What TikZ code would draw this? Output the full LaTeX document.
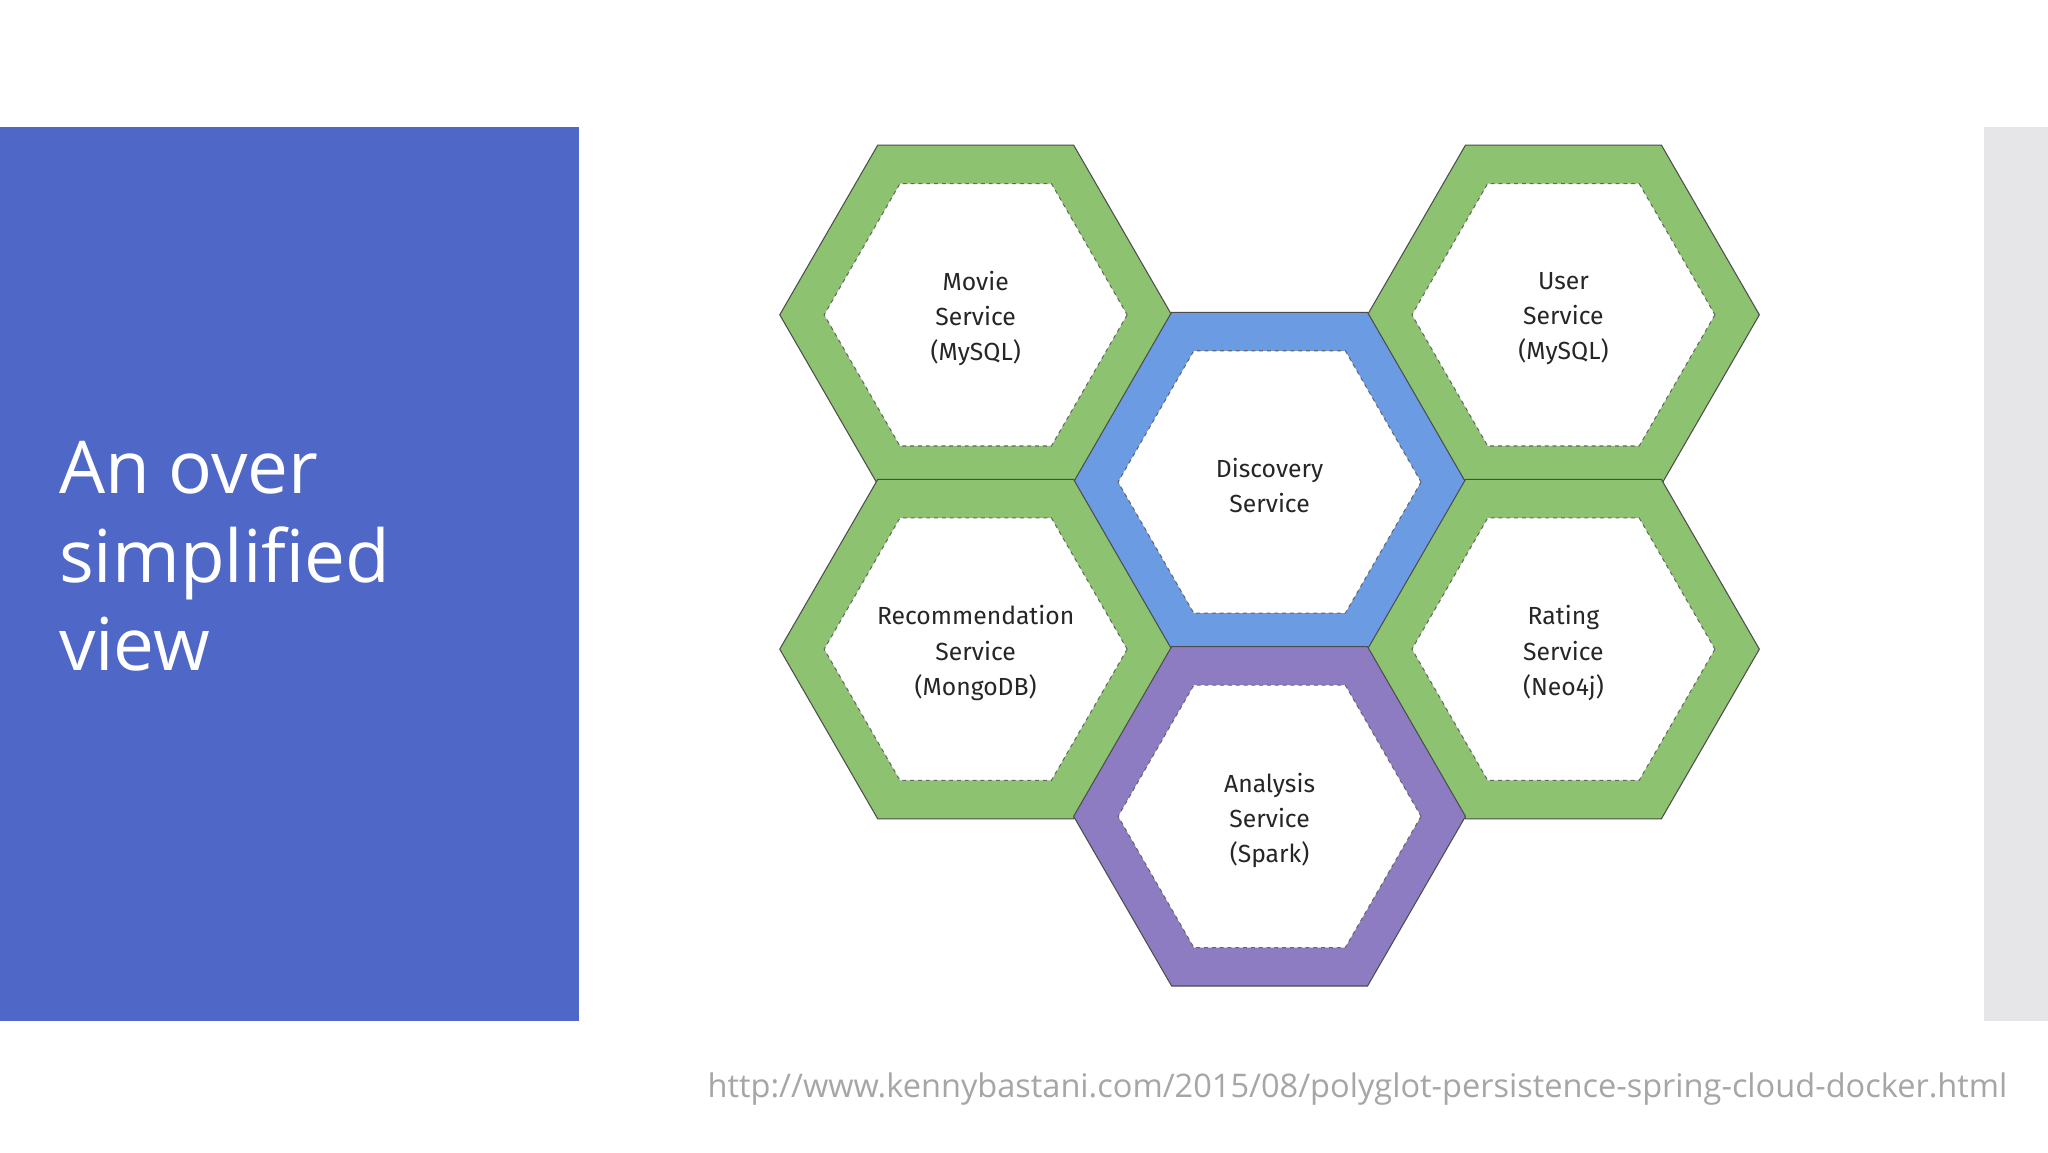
\documentclass[tikz,border=0pt]{standalone}
\usepackage{fontspec}
\setmainfont{Open Sans}
\newfontfamily\hexfont{Fira Sans}
\definecolor{slideblue}{HTML}{4F67C6}
\definecolor{sidegray}{HTML}{E6E6E8}
\definecolor{hgreen}{HTML}{8DC271}
\definecolor{hblue}{HTML}{6B9BE3}
\definecolor{hpurple}{HTML}{8E7CC3}
\definecolor{urlgray}{HTML}{A6A6A6}
\tikzset{
  hexlabel/.style={align=center,font=\hexfont\fontsize{19}{27}\selectfont,text=black!85},
}
\begin{document}
\begin{tikzpicture}[x=1bp,y=-1bp]
\useasboundingbox (0,0) rectangle (1568,882);
\fill[white] (0,0) rectangle (1568,882);
\fill[slideblue] (0,97) rectangle (443,782);
\fill[sidegray] (1519,97) rectangle (1568,782);
\node[anchor=north west,align=left,text=white,font=\fontsize{56}{68}\selectfont,inner sep=0pt] (title) at (45,338) {An over\\simplified\\view};
\node[text=urlgray,font=\fontsize{25}{30}\selectfont,anchor=east,inner sep=0pt] (url) at (1537,834) {http://www.kennybastani.com/2015/08/polyglot-persistence-spring-cloud-docker.html};
\foreach \n/\x/\y/\c/\t in {
  movie/747/241/hgreen/{Movie\\Service\\(MySQL)},
  user/1197/241/hgreen/{User\\Service\\(MySQL)},
  disc/972/369/hblue/{Discovery\\Service},
  rec/747/497/hgreen/{Recommendation\\Service\\(MongoDB)},
  rating/1197/497/hgreen/{Rating\\Service\\(Neo4j)},
  ana/972/625/hpurple/{Analysis\\Service\\(Spark)}}{
  \fill[\c,even odd rule] (\x,\y) ++(0:150) -- ++(120:150) -- ++(180:150) -- ++(240:150) -- ++(300:150) -- ++(0:150) -- cycle
     (\x,\y) ++(0:116) -- ++(120:116) -- ++(180:116) -- ++(240:116) -- ++(300:116) -- ++(0:116) -- cycle;
  \draw[black!70,line width=0.8pt] (\x,\y) ++(0:150) -- ++(120:150) -- ++(180:150) -- ++(240:150) -- ++(300:150) -- ++(0:150) -- cycle;
  \draw[black!60,dashed,line width=0.8pt] (\x,\y) ++(0:116) -- ++(120:116) -- ++(180:116) -- ++(240:116) -- ++(300:116) -- ++(0:116) -- cycle;
  \node[hexlabel] (\n) at (\x,\y+3) {\t};
}
\end{tikzpicture}
\end{document}
